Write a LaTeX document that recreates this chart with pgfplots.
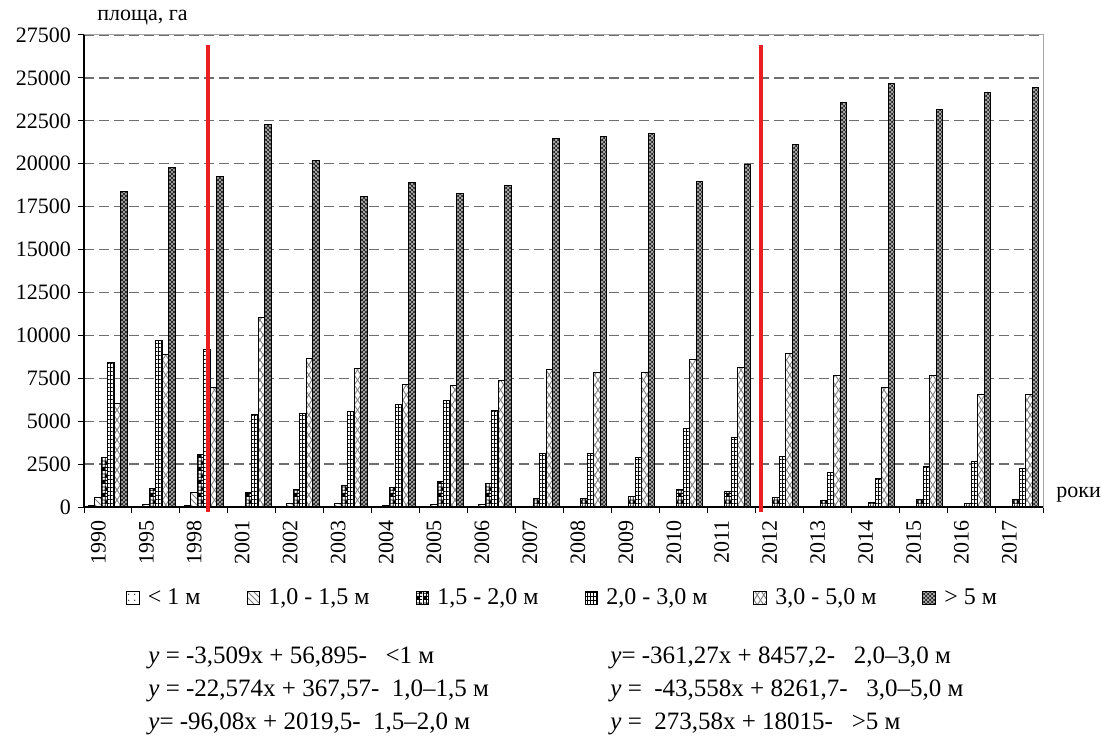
\documentclass[border=0pt]{standalone}
\usepackage{fontspec}
\setmainfont{Liberation Serif}
\usepackage{pgfplots}
\pgfplotsset{compat=1.18}
\usepackage{pgfplotstable}
\usetikzlibrary{patterns}

\definecolor{redline}{RGB}{235,30,35}
\definecolor{gridgray}{RGB}{110,110,110}

% patterns close to the Excel fills
\pgfdeclarepatternformonly{sdots}{\pgfpointorigin}{\pgfqpoint{3pt}{3pt}}{\pgfqpoint{3pt}{3pt}}%
{\pgfpathcircle{\pgfqpoint{1.5pt}{1.5pt}}{0.35pt}\pgfusepath{fill}}
\pgfdeclarepatternformonly{chk}{\pgfpointorigin}{\pgfqpoint{3.2pt}{6.4pt}}{\pgfqpoint{3.2pt}{6.4pt}}%
{\pgfpathrectangle{\pgfpointorigin}{\pgfqpoint{1.6pt}{1.6pt}}%
 \pgfpathrectangle{\pgfqpoint{1.6pt}{3.2pt}}{\pgfqpoint{1.6pt}{1.6pt}}\pgfusepath{fill}%
 \pgfsetlinewidth{0.4pt}%
 \pgfpathmoveto{\pgfqpoint{0pt}{0.2pt}}\pgfpathlineto{\pgfqpoint{3.2pt}{0.2pt}}%
 \pgfpathmoveto{\pgfqpoint{0pt}{1.8pt}}\pgfpathlineto{\pgfqpoint{3.2pt}{1.8pt}}%
 \pgfpathmoveto{\pgfqpoint{0pt}{3.4pt}}\pgfpathlineto{\pgfqpoint{3.2pt}{3.4pt}}%
 \pgfpathmoveto{\pgfqpoint{0pt}{5.0pt}}\pgfpathlineto{\pgfqpoint{3.2pt}{5.0pt}}%
 \pgfpathmoveto{\pgfqpoint{0.2pt}{0pt}}\pgfpathlineto{\pgfqpoint{0.2pt}{6.4pt}}%
 \pgfpathmoveto{\pgfqpoint{1.8pt}{0pt}}\pgfpathlineto{\pgfqpoint{1.8pt}{6.4pt}}%
 \pgfusepath{stroke}}
\pgfdeclarepatternformonly{hgrid}{\pgfpointorigin}{\pgfqpoint{1.625pt}{2.2pt}}{\pgfqpoint{1.625pt}{2.2pt}}%
{\pgfsetlinewidth{0.45pt}%
 \pgfpathmoveto{\pgfqpoint{0pt}{0.25pt}}\pgfpathlineto{\pgfqpoint{1.625pt}{0.25pt}}%
 \pgfpathmoveto{\pgfqpoint{0.25pt}{0pt}}\pgfpathlineto{\pgfqpoint{0.25pt}{2.2pt}}%
 \pgfusepath{stroke}}
\pgfdeclarepatternformonly{xhatch}{\pgfqpoint{-0.5pt}{-0.5pt}}{\pgfqpoint{3.75pt}{5.5pt}}{\pgfqpoint{3.25pt}{5pt}}%
{\pgfsetlinewidth{0.45pt}%
 \pgfpathmoveto{\pgfqpoint{0pt}{0pt}}\pgfpathlineto{\pgfqpoint{3.25pt}{5pt}}%
 \pgfpathmoveto{\pgfqpoint{0pt}{5pt}}\pgfpathlineto{\pgfqpoint{3.25pt}{0pt}}%
 \pgfusepath{stroke}}
\pgfdeclarepatternformonly{fx}{\pgfqpoint{-0.3pt}{-0.3pt}}{\pgfqpoint{2.3pt}{2.3pt}}{\pgfqpoint{2pt}{2pt}}%
{\pgfsetlinewidth{0.35pt}%
 \pgfpathmoveto{\pgfqpoint{0pt}{0pt}}\pgfpathlineto{\pgfqpoint{2pt}{2pt}}%
 \pgfpathmoveto{\pgfqpoint{0pt}{2pt}}\pgfpathlineto{\pgfqpoint{2pt}{0pt}}%
 \pgfusepath{stroke}}

\tikzset{
  barA/.style={draw=black, line width=0.5pt, preaction={fill=white}, pattern=sdots, pattern color=black},
  barB/.style={draw=black, line width=0.5pt, preaction={fill=white}, pattern=north west lines, pattern color=gray},
  barC/.style={draw=black, line width=0.5pt, preaction={fill=white}, pattern=chk, pattern color=black},
  barD/.style={draw=black, line width=0.5pt, preaction={fill=white}, pattern=hgrid, pattern color=black},
  barE/.style={draw=black, line width=0.5pt, preaction={fill=white}, pattern=xhatch, pattern color=gray},
  barF/.style={draw=black, line width=0.5pt, preaction={fill=black!88}, pattern=fx, pattern color=gray!60},
}

% area, ha by depth class
\pgfplotstableread{
idx year lt1 d1015 d1520 d2030 d3050 gt5
0  1990 60  570 2880 8430 6030  18370
1  1995 0   150 1070 9720 8860  19770
2  1998 115 820 3070 9200 6960  19270
3  2001 0   40  860  5380 11020 22300
4  2002 0   200 1010 5470 8630  20200
5  2003 0   210 1270 5570 8070  18100
6  2004 0   60  1140 5980 7120  18900
7  2005 0   150 1500 6210 7060  18240
8  2006 0   150 1360 5630 7350  18740
9  2007 0   0   500  3110 7990  21480
10 2008 0   0   500  3110 7850  21560
11 2009 0   0   640  2900 7850  21770
12 2010 0   0   1010 4550 8570  18950
13 2011 0   0   900  4040 8120  19980
14 2012 0   0   540  2960 8920  21130
15 2013 0   0   380  2010 7640  23580
16 2014 0   0   290  1660 6960  24660
17 2015 0   0   440  2380 7640  23150
18 2016 0   0   210  2670 6540  24160
19 2017 0   0   440  2240 6540  24450
}\data

\begin{document}
\begin{tikzpicture}
\begin{axis}[
    at={(0,0)}, anchor=south west,
    scale only axis, width=479.5pt, height=236pt,
    ybar=0pt, bar width=3.25pt,
    xmin=-0.5, xmax=19.5, ymin=0, ymax=27500,
    xtick={-0.2,0.8,...,18.8},
    xticklabels={1990,1995,1998,2001,2002,2003,2004,2005,2006,2007,2008,2009,2010,2011,2012,2013,2014,2015,2016,2017},
    major x tick style={draw=none},
    minor xtick={-0.5,0.5,...,19.5},
    minor x tick style={black, line width=0.5pt},
    ytick={0,2500,...,27500},
    y tick style={black, line width=0.5pt},
    tick align=outside, xtick pos=bottom, ytick pos=left,
    major tick length=3pt, minor tick length=3pt,
    ymajorgrids,
    grid style={gridgray, dash pattern=on 4.8pt off 2.7pt, line width=0.6pt},
    axis line style={gray!70, line width=0.5pt},
    /pgf/number format/1000 sep={},
    /pgf/number format/assume math mode=true,
    scaled y ticks=false,
    yticklabel style={font=\fontsize{11}{13}\selectfont},
    xticklabel style={font=\fontsize{11}{13}\selectfont, rotate=90, anchor=east},
    clip=false,
    legend columns=6,
    legend style={at={(0.5,-0.193)}, anchor=center, draw=none, fill=none,
      font=\fontsize{12}{14}\selectfont,
      /tikz/every odd column/.append style={column sep=2pt},
      /tikz/every even column/.append style={column sep=21pt}},
    legend image code/.code={\draw[#1] (0pt,-3.2pt) rectangle (6.4pt,3.2pt);},
]
\addplot[barA] table[x=idx, y=lt1] {\data};
\addplot[barB] table[x=idx, y=d1015] {\data};
\addplot[barC] table[x=idx, y=d1520] {\data};
\addplot[barD] table[x=idx, y=d2030] {\data};
\addplot[barE] table[x=idx, y=d3050] {\data};
\addplot[barF] table[x=idx, y=gt5] {\data};
\legend{< 1 м, {1,0 - 1,5 м}, {1,5 - 2,0 м}, {2,0 - 3,0 м}, {3,0 - 5,0 м}, > 5 м}
\draw[black, line width=0.6pt] (rel axis cs:0,1) -- (rel axis cs:0,0) -- (rel axis cs:1,0);
\draw[redline, line width=2.2pt] (axis cs:2.08,-290) -- (axis cs:2.08,26900);
\draw[redline, line width=2.2pt] (axis cs:13.62,-290) -- (axis cs:13.62,26900);
\end{axis}
\node[anchor=base west, font=\fontsize{11}{13}\selectfont, inner sep=0pt] at (6.5pt,243pt) {площа, га};
\node[anchor=base west, font=\fontsize{11}{13}\selectfont, inner sep=0pt] at (486pt,5pt) {роки};
\begin{scope}[every node/.style={anchor=base west, inner sep=0pt, font=\fontsize{12.5}{15}\selectfont}]
\node at (32pt,-78pt)   {\textit{y} = -3,509x + 56,895-\ \ \ <1 м};
\node at (32pt,-94.5pt) {\textit{y} = -22,574x + 367,57-\ \ 1,0–1,5 м};
\node at (32pt,-111pt)  {\textit{y}= -96,08x + 2019,5-\ \ 1,5–2,0 м};
\node at (263pt,-78pt)   {\textit{y}= -361,27x + 8457,2-\ \ \ 2,0–3,0 м};
\node at (263pt,-94.5pt) {\textit{y} =\ \ -43,558x + 8261,7-\ \ \ 3,0–5,0 м};
\node at (263pt,-111pt)  {\textit{y} =\ \ 273,58x + 18015-\ \ \ >5 м};
\end{scope}
\pgfresetboundingbox
\path[use as bounding box] (-42pt,-116.5pt) rectangle (509pt,253.5pt);
\end{tikzpicture}
\end{document}
